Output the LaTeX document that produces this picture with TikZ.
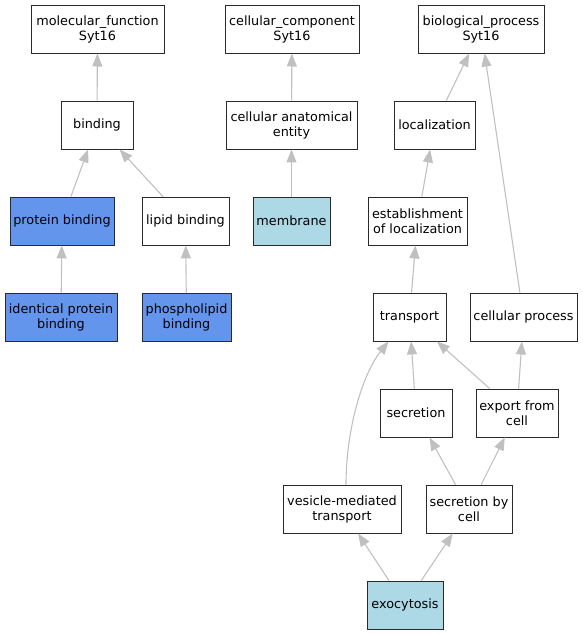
\documentclass[tikz,border=0pt]{standalone}
\usepackage{fontspec}
\setmainfont{DejaVu Sans}
\usetikzlibrary{arrows.meta,calc}
\definecolor{cornflower}{HTML}{6495ED}
\definecolor{lblue}{HTML}{ADD8E6}
\definecolor{edgegray}{HTML}{C0C0C0}
\definecolor{bordergray}{HTML}{2A2A2A}
\tikzset{
  term/.style={draw=bordergray, line width=0.9pt, fill=white, inner sep=1pt, align=center,
    font=\fontsize{12.8}{15}\selectfont, minimum height=48pt},
  rootterm/.style={term, line width=1.0pt},
  hit/.style={fill=cornflower},
  anno/.style={fill=lblue},
  edge/.style={draw=edgegray, line width=1.1pt, -{Triangle[length=13pt,width=10pt,fill=edgegray]}}
}
\begin{document}
\begin{tikzpicture}[x=1pt,y=1pt]
\useasboundingbox (0,0) rectangle (583,-635);
% molecular function branch
\node[rootterm, minimum width=133pt] (mf) at (97.5,-29) {molecular\_function\\Syt16};
\node[term, minimum width=72pt] (bind) at (97,-125) {binding};
\node[term, hit, minimum width=104pt] (pb) at (62,-221) {protein binding};
\node[term, minimum width=87pt] (lb) at (185.5,-221) {lipid binding};
\node[term, hit, minimum width=112pt] (ipb) at (61,-317) {identical protein\\binding};
\node[term, hit, minimum width=89pt] (plb) at (186.5,-317) {phospholipid\\binding};
% cellular component branch
\node[rootterm, minimum width=134pt] (cc) at (292,-29) {cellular\_component\\Syt16};
\node[term, minimum width=131pt] (cae) at (291.5,-125) {cellular anatomical\\entity};
\node[term, anno, minimum width=77pt] (mem) at (291.5,-221) {membrane};
% biological process branch
\node[rootterm, minimum width=126pt] (bp) at (481,-29) {biological\_process\\Syt16};
\node[term, minimum width=81pt] (loc) at (434.5,-125) {localization};
\node[term, minimum width=99pt] (est) at (417.5,-221) {establishment\\of localization};
\node[term, minimum width=73pt] (tr) at (409.5,-317) {transport};
\node[term, minimum width=107pt] (cp) at (523.5,-317) {cellular process};
\node[term, minimum width=72pt] (sec) at (416,-413) {secretion};
\node[term, minimum width=82pt] (exp) at (517,-413) {export from\\cell};
\node[term, minimum width=118pt] (vmt) at (342,-509) {vesicle-mediated\\transport};
\node[term, minimum width=86pt] (sbc) at (469,-509) {secretion by\\cell};
\node[term, anno, minimum width=76pt] (exo) at (405,-605) {exocytosis};
% edges
\draw[edge] (bind) -- (mf);
\draw[edge] (pb) -- (bind);
\draw[edge] (lb) -- (bind);
\draw[edge] (ipb) -- (pb);
\draw[edge] (plb) -- (lb);
\draw[edge] (cae) -- (cc);
\draw[edge] (mem) -- (cae);
\draw[edge] (loc) -- (bp);
\draw[edge] (cp) -- (bp);
\draw[edge] (est) -- (loc);
\draw[edge] (tr) -- (est);
\draw[edge] ($(vmt.north)+(4,0)$) .. controls (346,-430) and (362,-375) .. ($(tr.south)+(-21,0)$);
\draw[edge] (sec) -- (tr);
\draw[edge] (exp) -- (tr);
\draw[edge] (exp) -- (cp);
\draw[edge] (sbc) -- (sec);
\draw[edge] (sbc) -- (exp);
\draw[edge] (exo) -- (vmt);
\draw[edge] (exo) -- (sbc);
\end{tikzpicture}
\end{document}
